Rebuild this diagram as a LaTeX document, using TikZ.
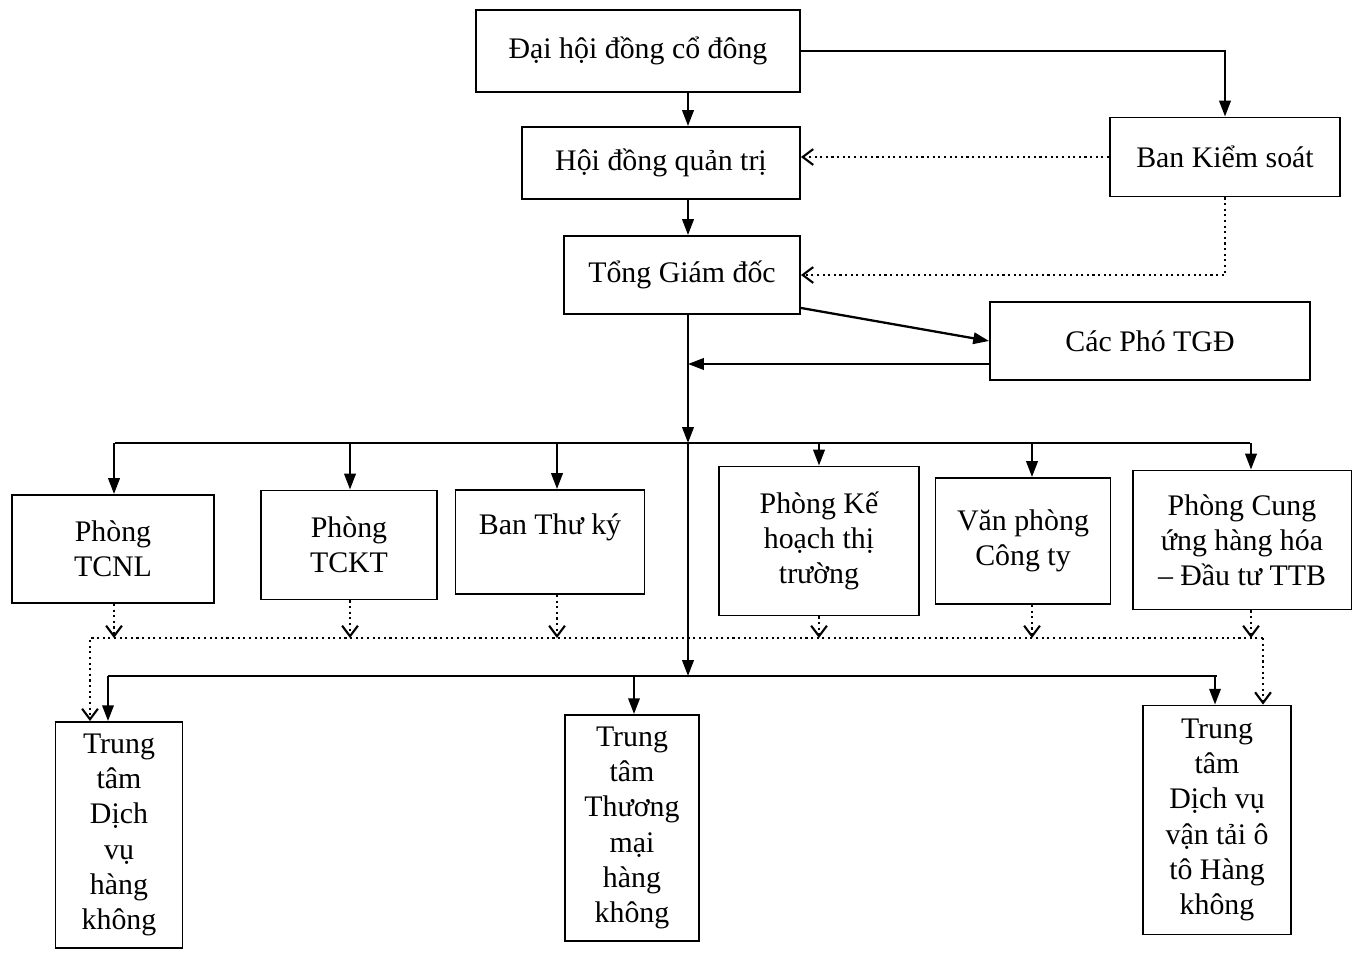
\documentclass[tikz,border=0pt]{standalone}
\usepackage{fontspec}
\setmainfont{Liberation Serif}
\usetikzlibrary{positioning, arrows.meta, calc}

\begin{document}
\begin{tikzpicture}[
  x=0.02cm, y=-0.02cm,
  font=\fontsize{17}{20}\selectfont,
  box/.style={draw, line width=1.1pt, align=center, inner sep=2pt},
  arr/.style={line width=1.3pt, -{Triangle[length=9pt,width=6.5pt]}},
  line/.style={line width=1.3pt},
  dotarr/.style={line width=1.2pt, dotted, -{Straight Barb[length=6pt,width=9pt]}},
  dotline/.style={line width=1.2pt, dotted}
]
\useasboundingbox (0,0) rectangle (1356,957);

% --- top: management ---
\node[box, minimum width=6.48cm, minimum height=1.64cm] (dhd) at (638,51) {Đại hội đồng cổ đông};
\node[box, minimum width=5.56cm, minimum height=1.44cm] (hdqt) at (661,163) {Hội đồng quản trị};
\node[box, minimum width=4.6cm, minimum height=1.58cm] (bks) at (1225,157) {Ban Kiểm soát};
\node[box, minimum width=4.72cm, minimum height=1.56cm] (tgd) at (682,275) {Tổng Giám đốc};
\node[box, minimum width=6.4cm, minimum height=1.56cm] (pho) at (1150,341) {Các Phó TGĐ};

% --- departments ---
\node[box, minimum width=4.04cm, minimum height=2.16cm] (tcnl) at (113,549) {Phòng\\TCNL};
\node[box, minimum width=3.52cm, minimum height=2.18cm] (tckt) at (349,545) {Phòng\\TCKT};
\node[box, minimum width=3.78cm, minimum height=2.08cm] (btk) at (550,542) {Ban Thư ký\\~};
\node[box, minimum width=4.0cm, minimum height=2.98cm] (khtt) at (819,541) {Phòng Kế\\hoạch thị\\trường};
\node[box, minimum width=3.5cm, minimum height=2.52cm] (vp) at (1023,541) {Văn phòng\\Công ty};
\node[box, minimum width=4.38cm, minimum height=2.78cm] (cu) at (1242,540) {Phòng Cung\\ứng hàng hóa\\– Đầu tư TTB};

% --- centres ---
\node[box, minimum width=2.54cm, minimum height=4.52cm] (tt1) at (119,835) {Trung\\tâm\\Dịch\\vụ\\hàng\\không};
\node[box, minimum width=2.68cm, minimum height=4.52cm] (tt2) at (632,828) {Trung\\tâm\\Thương\\mại\\hàng\\không};
\node[box, minimum width=2.96cm, minimum height=4.58cm] (tt3) at (1217,820) {Trung\\tâm\\Dịch vụ\\vận tải ô\\tô Hàng\\không};

\coordinate (spine) at (688,0);
\coordinate (bus1) at (688,443);
\coordinate (bus2) at (688,638);
\coordinate (bus3) at (688,676);
\coordinate (dl) at (90,638);
\coordinate (dr) at (1263,638);
\coordinate (back) at ([yshift=-0.46cm]pho.west);

% top links
\draw[arr] (dhd.east) -| (bks.north);
\draw[arr] (dhd.south -| spine) -- (hdqt.north -| spine);
\draw[arr] (hdqt.south -| spine) -- (tgd.north -| spine);
\draw[dotarr] (bks.west) -- (bks.west -| hdqt.east);
\draw[dotarr] (bks.south) |- (tgd.east);
\draw[arr] ([yshift=0.14cm]tgd.south east) -- (pho.west);
\draw[arr] (back) -- (spine |- back);

% spine down to the buses
\draw[arr] (tgd.south -| spine) -- (bus1);
\draw[arr] (bus1) -- (bus3);

% upper bus to departments, dotted links down to the lower line
\draw[line] ([xshift=0.04cm]tcnl.north |- bus1) -- ([xshift=0.16cm]cu.north |- bus1);
\foreach \n/\dx in {tcnl/1,tckt/1,btk/7,khtt/0,vp/9,cu/9} {
  \draw[arr] ([xshift=\dx*0.02cm]\n.north |- bus1) -- ([xshift=\dx*0.02cm]\n.north);
  \draw[dotarr] ([xshift=\dx*0.02cm]\n.south) -- ([xshift=\dx*0.02cm]\n.south |- bus2);
}
\draw[dotarr] (dr) -- (dl) -- (dl |- tt1.north);
\draw[dotarr] (dr) -- (dr |- tt3.north);

% lower bus to centres
\draw[line] ([xshift=-0.22cm]tt1.north |- bus3) -- (tt3.north |- bus3);
\foreach \n/\dx in {tt1/-11,tt2/2,tt3/-2}
  \draw[arr] ([xshift=\dx*0.02cm]\n.north |- bus3) -- ([xshift=\dx*0.02cm]\n.north);
\end{tikzpicture}
\end{document}
